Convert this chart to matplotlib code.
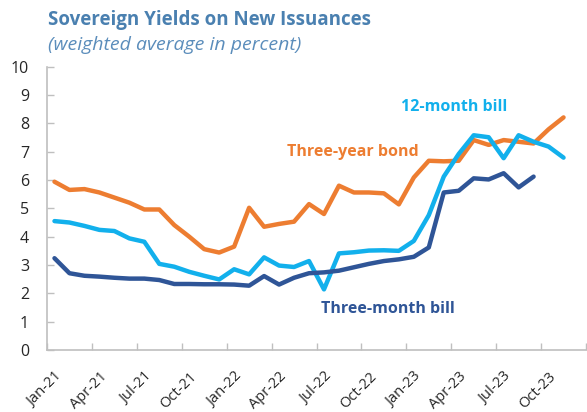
import matplotlib
matplotlib.use("Agg")
import matplotlib.pyplot as plt
import numpy as np

months = ["Jan-21","Feb-21","Mar-21","Apr-21","May-21","Jun-21","Jul-21","Aug-21","Sep-21","Oct-21","Nov-21","Dec-21",
          "Jan-22","Feb-22","Mar-22","Apr-22","May-22","Jun-22","Jul-22","Aug-22","Sep-22","Oct-22","Nov-22","Dec-22",
          "Jan-23","Feb-23","Mar-23","Apr-23","May-23","Jun-23","Jul-23","Aug-23","Sep-23","Oct-23","Nov-23","Dec-23"]

three_year_bond = [5.94, 5.65, 5.68, 5.56, 5.38, 5.20, 4.96, 4.96, 4.41, 4.00, 3.56, 3.44,
                   3.65, 5.02, 4.35, 4.45, 4.53, 5.15, 4.80, 5.80, 5.56, 5.56, 5.53, 5.14,
                   6.09, 6.68, 6.66, 6.68, 7.41, 7.24, 7.41, 7.35, 7.29, 7.79, 8.21]

twelve_month_bill = [4.55, 4.50, 4.38, 4.24, 4.20, 3.94, 3.82, 3.04, 2.94, 2.76, 2.62, 2.49,
                     2.85, 2.67, 3.27, 2.98, 2.93, 3.14, 2.14, 3.41, 3.45, 3.51, 3.52, 3.50,
                     3.85, 4.76, 6.12, 6.92, 7.58, 7.51, 6.77, 7.58, 7.35, 7.18, 6.79]

three_month_bill = [3.24, 2.71, 2.62, 2.59, 2.55, 2.52, 2.52, 2.47, 2.33, 2.33, 2.32, 2.32,
                    2.31, 2.27, 2.61, 2.31, 2.55, 2.71, 2.74, 2.80, 2.92, 3.04, 3.14, 3.20,
                    3.29, 3.62, 5.56, 5.62, 6.06, 6.02, 6.24, 5.74, 6.12]

tick_labels = ["Jan-21","Apr-21","Jul-21","Oct-21","Jan-22","Apr-22","Jul-22","Oct-22","Jan-23","Apr-23","Jul-23","Oct-23"]

c_orange = "#ED7D31"
c_light = "#12B0EC"
c_dark = "#2F5597"
c_axis = "#BFBFBF"
font = "Open Sans"

fig = plt.figure(figsize=(5.87, 4.12), dpi=100)
ax = fig.add_axes([47/587, 1-350/412, (586-47)/587, (350-66.7)/412])

ax.plot(np.arange(len(three_year_bond)), three_year_bond, color=c_orange, lw=3.2, solid_joinstyle="round", solid_capstyle="round")
ax.plot(np.arange(len(twelve_month_bill)), twelve_month_bill, color=c_light, lw=3.2, solid_joinstyle="round", solid_capstyle="round")
ax.plot(np.arange(len(three_month_bill)), three_month_bill, color=c_dark, lw=3.2, solid_joinstyle="round", solid_capstyle="round")

ax.set_xlim(-0.5, len(months) - 0.5)
ax.set_ylim(0, 10)
ax.set_yticks(range(0, 11))
ax.set_yticklabels([str(v) for v in range(0, 11)], fontsize=11.5, family=font, color="#262626")

label_pos = [months.index(m) for m in tick_labels]
ax.set_xticks(label_pos)
ax.set_xticklabels(tick_labels, rotation=45, ha="right", rotation_mode="anchor", fontsize=10.5, family=font, color="#262626")
ax.set_xticks(np.arange(-0.5, len(months), 3), minor=True)
ax.tick_params(axis="x", which="major", length=0, pad=14)
ax.tick_params(axis="x", which="minor", length=5, direction="in", color=c_axis, width=1)
ax.tick_params(axis="y", length=5, direction="in", color=c_axis, width=1, pad=13)

for s in ["top", "right"]:
    ax.spines[s].set_visible(False)
for s in ["left", "bottom"]:
    ax.spines[s].set_color(c_axis)
    ax.spines[s].set_linewidth(1.2)

ax.text(26.7, 8.57, "12-month bill", color=c_light, fontsize=11.5, fontweight="bold", family=font, ha="center", va="center")
ax.text(19.9, 7.0, "Three-year bond", color=c_orange, fontsize=11.5, fontweight="bold", family=font, ha="center", va="center")
ax.text(22.3, 1.45, "Three-month bill", color=c_dark, fontsize=11.5, fontweight="bold", family=font, ha="center", va="center")

fig.text(48/587, 1-20/412, "Sovereign Yields on New Issuances", color="#4A80B0", fontsize=13.5, fontweight="bold", family=font, ha="left", va="center")
fig.text(48/587, 1-45/412, "(weighted average in percent)", color="#5B8DBB", fontsize=14, style="italic", family=font, ha="left", va="center")

fig.savefig("out.png", dpi=100)
